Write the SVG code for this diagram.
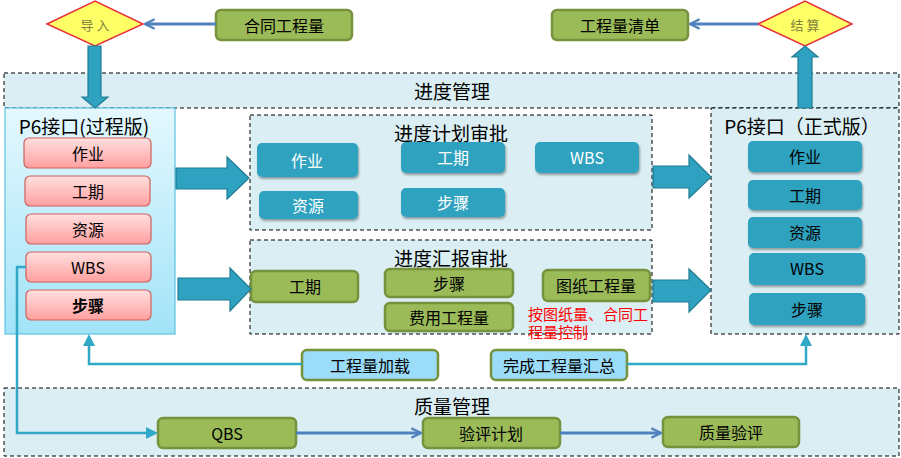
<svg xmlns="http://www.w3.org/2000/svg" width="901" height="458" viewBox="0 0 901 458">
<defs>
<linearGradient id="gProc" x1="0" y1="0" x2="0" y2="1"><stop offset="0" stop-color="#E4F8FE"/><stop offset="1" stop-color="#A2E3F8"/></linearGradient>
<linearGradient id="gPink" x1="0" y1="0" x2="0" y2="1"><stop offset="0" stop-color="#FFE0E0"/><stop offset="1" stop-color="#FF9F9F"/></linearGradient>
<filter id="sh" x="-10%" y="-20%" width="120%" height="150%"><feDropShadow dx="1" dy="2" stdDeviation="1.2" flood-color="#000" flood-opacity="0.35"/></filter>
<marker id="mBlue" viewBox="0 0 10 10" refX="9" refY="5" markerWidth="12" markerHeight="12" markerUnits="userSpaceOnUse" orient="auto"><path d="M1,1 L9,5 L1,9" fill="none" stroke="#4F81BD" stroke-width="2"/></marker>
</defs>
<style>
text{font-family:"Microsoft YaHei","Noto Sans CJK SC","Noto Sans",sans-serif;text-anchor:middle;dominant-baseline:central}
.region{fill:#DAEEF3;stroke:#000;stroke-width:1;stroke-dasharray:4,3}
.sub{fill:#DAEEF3;stroke:#000;stroke-width:1;stroke-dasharray:4,3}
.green{fill:#9BBB59;stroke:#76923C;stroke-width:2.5}
.lblue{fill:#9BDCF8;stroke:#76923C;stroke-width:2.5}
.teal{fill:#2DA2BF;filter:url(#sh)}
.pink{fill:url(#gPink);stroke:#D0605C;stroke-width:1.2}
.dia{fill:#FFFF66;stroke:#E8303A;stroke-width:1.5}
.big{fill:#2EA2C0;stroke:#217C93;stroke-width:1.2}
.t15{font-size:16px;fill:#000}
.tw{font-size:16px;fill:#fff}
.title{font-size:19px;fill:#000}
.red{font-size:15px;fill:#FF0000;text-anchor:start}
.blue{stroke:#4F81BD;stroke-width:3;fill:none}
.tl{stroke:#31A9C6;stroke-width:2.5;fill:none}
</style>

<g id="progress-mgmt">
<rect class="region" x="4" y="73" width="895" height="35"/>
<text class="title" x="452" y="90">进度管理</text>
</g>
<g id="quality-mgmt">
<rect class="region" x="4" y="388" width="895" height="68"/>
<text class="title" x="452" y="405">质量管理</text>
</g>

<g id="import">
<polygon class="dia" points="47,24 95,1 143,24 95,46"/>
<text x="95" y="24" style="font-size:13px;fill:#7F7F3F">导 入</text>
</g>
<g id="contract">
<rect class="green" x="216" y="10" width="136" height="30" rx="5"/>
<text class="t15" x="284" y="25">合同工程量</text>
</g>
<g id="settle">
<polygon class="dia" points="758,24 805,1 852,24 805,46"/>
<text x="805" y="24" style="font-size:13px;fill:#7F7F3F">结 算</text>
</g>
<g id="bill">
<rect class="green" x="552" y="10" width="136" height="30" rx="5"/>
<text class="t15" x="620" y="25">工程量清单</text>
</g>

<g id="p6-process">
<rect x="5" y="108" width="170" height="226" fill="url(#gProc)" stroke="#5CC3E0" stroke-width="1.2"/>
<text class="title" x="84" y="125">P6接口(过程版)</text>
<rect class="pink" x="24" y="138" width="127" height="30" rx="5"/><text class="t15" x="88" y="153">作业</text>
<rect class="pink" x="25" y="176" width="125" height="30" rx="5"/><text class="t15" x="88" y="191">工期</text>
<rect class="pink" x="26" y="214" width="125" height="30" rx="5"/><text class="t15" x="88" y="229">资源</text>
<rect class="pink" x="26" y="252" width="125" height="30" rx="5"/><text class="t15" x="88" y="267">WBS</text>
<rect class="pink" x="26" y="290" width="125" height="30" rx="5"/><text class="t15" x="88" y="305" font-weight="bold">步骤</text>
</g>

<g id="plan-approval">
<rect class="sub" x="250" y="115" width="402" height="115"/>
<text class="title" x="451" y="132">进度计划审批</text>
<rect class="teal" x="257" y="143" width="101" height="34" rx="5"/><text class="tw" x="307" y="160">作业</text>
<rect class="teal" x="259" y="191" width="99" height="28" rx="5"/><text class="tw" x="308" y="205">资源</text>
<rect class="teal" x="401" y="142" width="104" height="31" rx="5"/><text class="tw" x="453" y="157">工期</text>
<rect class="teal" x="401" y="188" width="104" height="29" rx="5"/><text class="tw" x="453" y="202">步骤</text>
<rect class="teal" x="535" y="142" width="104" height="31" rx="5"/><text class="tw" x="587" y="157">WBS</text>
</g>

<g id="report-approval">
<rect class="sub" x="250" y="240" width="402" height="94"/>
<text class="title" x="451" y="257">进度汇报审批</text>
<rect class="green" x="251" y="271" width="107" height="31" rx="5"/><text class="t15" x="305" y="286">工期</text>
<rect class="green" x="385" y="269" width="128" height="28" rx="5"/><text class="t15" x="449" y="283">步骤</text>
<rect class="green" x="385" y="303" width="128" height="28" rx="5"/><text class="t15" x="449" y="317">费用工程量</text>
<rect class="green" x="543" y="270" width="107" height="31" rx="5"/><text class="t15" x="596" y="285">图纸工程量</text>
<text class="red" x="528" y="313">按图纸量、合同工</text>
<text class="red" x="528" y="331">程量控制</text>
</g>

<g id="p6-formal">
<rect class="sub" x="711" y="108" width="188" height="226"/>
<text class="title" x="802" y="125">P6接口（正式版）</text>
<rect class="teal" x="748" y="141" width="114" height="31" rx="5"/><text class="t15" x="805" y="156">作业</text>
<rect class="teal" x="748" y="180" width="114" height="30" rx="5"/><text class="t15" x="805" y="195">工期</text>
<rect class="teal" x="748" y="217" width="114" height="31" rx="5"/><text class="t15" x="805" y="232">资源</text>
<rect class="teal" x="749" y="253" width="116" height="32" rx="5"/><text class="t15" x="807" y="268">WBS</text>
<rect class="teal" x="749" y="293" width="116" height="32" rx="5"/><text class="t15" x="807" y="309">步骤</text>
</g>

<g id="load">
<rect class="lblue" x="302" y="350" width="136" height="30" rx="5"/>
<text class="t15" x="370" y="365">工程量加载</text>
</g>
<g id="summary">
<rect class="lblue" x="491" y="350" width="136" height="30" rx="5"/>
<text class="t15" x="559" y="365">完成工程量汇总</text>
</g>

<g id="qbs">
<rect class="green" x="158" y="418" width="138" height="30" rx="5"/>
<text class="t15" x="227" y="433">QBS</text>
</g>
<g id="plan-eval">
<rect class="green" x="423" y="418" width="137" height="30" rx="5"/>
<text class="t15" x="491" y="433">验评计划</text>
</g>
<g id="quality-eval">
<rect class="green" x="663" y="417" width="136" height="30" rx="5"/>
<text class="t15" x="731" y="432">质量验评</text>
</g>

<g id="connectors">
<line class="blue" x1="216" y1="24" x2="145" y2="24" marker-end="url(#mBlue)"/>
<line class="blue" x1="758" y1="24" x2="690" y2="24" marker-end="url(#mBlue)"/>
<line class="blue" x1="296" y1="433" x2="421" y2="433" marker-end="url(#mBlue)"/>
<line class="blue" x1="560" y1="433" x2="661" y2="433" marker-end="url(#mBlue)"/>
<polygon class="big" points="88,46 101,46 101,97 108,97 95,108 82,97 88,97"/>
<polygon class="big" points="798,108 812,108 812,57 818,57 805,46 792,57 798,57"/>
<polygon class="big" points="176,168 227,168 227,157 249,178 227,199 227,189 176,189"/>
<polygon class="big" points="178,278 230,278 230,268 251,289 230,311 230,300 178,300"/>
<polygon class="big" points="653,166 689,166 689,155 711,177 689,198 689,188 653,188"/>
<polygon class="big" points="653,280 689,280 689,269 711,290 689,312 689,302 653,302"/>
<polyline class="tl" points="302,364 89,364 89,345"/>
<polygon points="89,334 95,346 83,346" fill="#31A9C6"/>
<polyline class="tl" points="627,364 806,364 806,345"/>
<polygon points="806,334 812,346 800,346" fill="#31A9C6"/>
<polyline class="tl" points="26,267 17,267 17,433 147,433"/>
<polygon points="158,433 146,427 146,439" fill="#31A9C6"/>
</g>
</svg>
